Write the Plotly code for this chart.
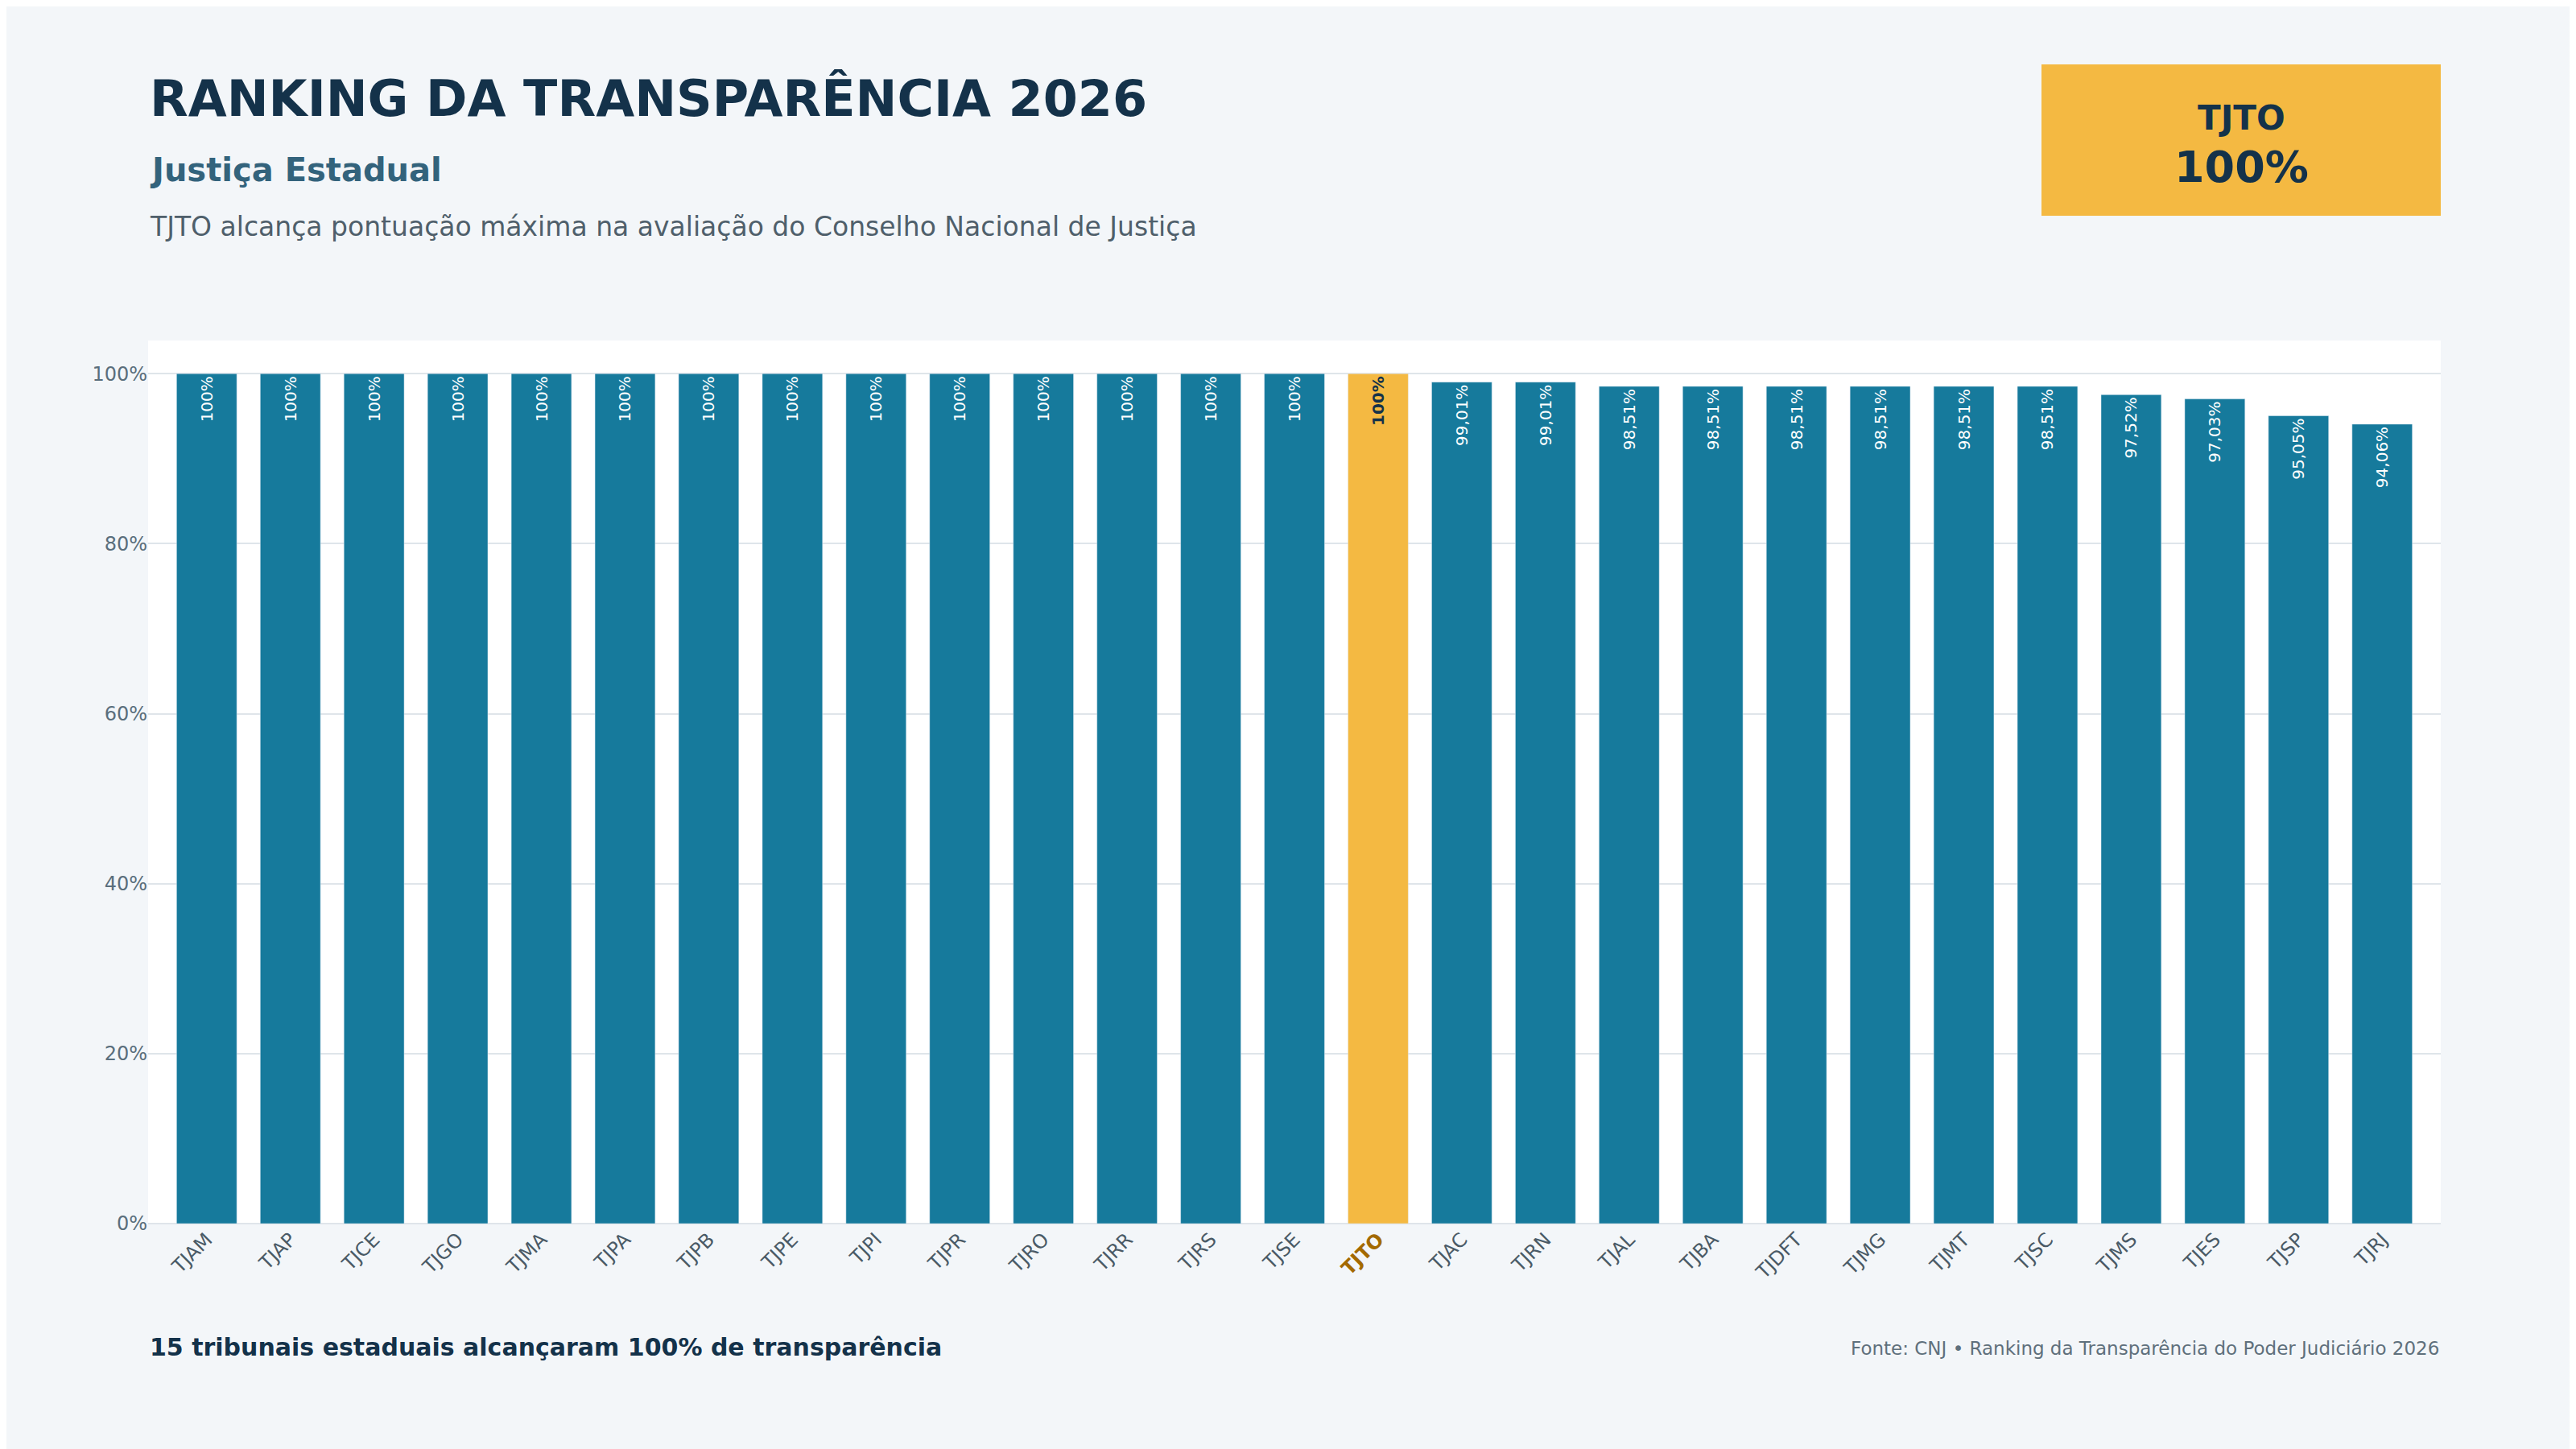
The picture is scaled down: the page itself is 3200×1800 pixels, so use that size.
import plotly.graph_objects as go

tribunais = ["TJAM", "TJAP", "TJCE", "TJGO", "TJMA", "TJPA", "TJPB", "TJPE", "TJPI", "TJPR",
             "TJRO", "TJRR", "TJRS", "TJSE", "TJTO", "TJAC", "TJRN", "TJAL", "TJBA", "TJDFT",
             "TJMG", "TJMT", "TJSC", "TJMS", "TJES", "TJSP", "TJRJ"]
valores = [100, 100, 100, 100, 100, 100, 100, 100, 100, 100, 100, 100, 100, 100, 100,
           99.01, 99.01, 98.51, 98.51, 98.51, 98.51, 98.51, 98.51, 97.52, 97.03, 95.05, 94.06]
y_ticks = [0, 20, 40, 60, 80, 100]

DESTAQUE = "TJTO"
AZUL = "#167a9c"
AMARELO = "#f4b942"
ESCURO = "#14324a"

cores = [AMARELO if t == DESTAQUE else AZUL for t in tribunais]
rotulos = [f"<b>{v:g}%</b>" if t == DESTAQUE else f"{v:g}%".replace(".", ",")
           for t, v in zip(tribunais, valores)]
rotulos = [r if "," in r or "<b>" in r else r for r in rotulos]
# keep two decimals for non-100 values
rotulos = [r if r.startswith("<b>") or v == 100 else f"{v:.2f}%".replace(".", ",")
           for r, v in zip(rotulos, valores)]
cor_txt = [ESCURO if t == DESTAQUE else "white" for t in tribunais]

fig = go.Figure(
    go.Bar(
        x=tribunais,
        y=valores,
        marker={"color": cores},
        width=0.72,
        text=rotulos,
        textposition="inside",
        insidetextanchor="end",
        textangle=-90,
        textfont={"size": 20, "color": cor_txt, "family": "DejaVu Sans"},
        hovertemplate="%{x}: %{y}%<extra></extra>",
    )
)

tick_text = [f"<b><span style='color:#a36a00'>{t}</span></b>" if t == DESTAQUE else t for t in tribunais]

fig.update_layout(
    width=3200,
    height=1800,
    font={"family": "DejaVu Sans", "color": "#5a6e7c"},
    paper_bgcolor="#f3f6f9",
    plot_bgcolor="white",
    margin={"l": 176, "r": 176, "t": 415, "b": 288},
    showlegend=False,
    xaxis={
        "tickmode": "array",
        "tickvals": tribunais,
        "ticktext": tick_text,
        "tickangle": -45,
        "tickfont": {"size": 24, "color": "#4a5a66"},
        "range": [-0.7, len(tribunais) - 0.3],
    },
    yaxis={
        "range": [0, 103.9],
        "tickvals": y_ticks,
        "ticktext": [f"{v}%" for v in y_ticks],
        "tickfont": {"size": 24, "color": "#5a6e7c"},
        "gridcolor": "#dfe5ea",
        "gridwidth": 2,
        "zeroline": True,
        "zerolinecolor": "#dfe5ea",
        "zerolinewidth": 2,
    },
    shapes=[{
        "type": "rect", "xref": "paper", "yref": "paper",
        "x0": 2528 / 2848 - 176 / 2848, "x1": 1.0,
        "y0": 1 + (1800 - 415 - 260) / 1097 - (1800 - 415 - 415) / 1097 + 0.0,
        "y1": 1 + (415 - 72) / 1097,
        "fillcolor": AMARELO, "line": {"width": 0}, "layer": "above",
    }],
    annotations=[
        {"text": "<b>RANKING DA TRANSPARÊNCIA 2026</b>", "xref": "paper", "yref": "paper",
         "x": 0, "y": 1 + (415 - 115) / 1097, "xanchor": "left", "yanchor": "middle",
         "showarrow": False, "font": {"size": 62, "color": ESCURO}},
        {"text": "<b>Justiça Estadual</b>", "xref": "paper", "yref": "paper",
         "x": 0, "y": 1 + (415 - 203) / 1097, "xanchor": "left", "yanchor": "middle",
         "showarrow": False, "font": {"size": 40, "color": "#33637c"}},
        {"text": "TJTO alcança pontuação máxima na avaliação do Conselho Nacional de Justiça",
         "xref": "paper", "yref": "paper",
         "x": 0, "y": 1 + (415 - 273) / 1097, "xanchor": "left", "yanchor": "middle",
         "showarrow": False, "font": {"size": 33, "color": "#4f5f6b"}},
        {"text": "<b>TJTO</b>", "xref": "paper", "yref": "paper",
         "x": (2776 - 176) / 2848, "y": 1 + (415 - 138) / 1097, "xanchor": "center", "yanchor": "middle",
         "showarrow": False, "font": {"size": 42, "color": ESCURO}},
        {"text": "<b>100%</b>", "xref": "paper", "yref": "paper",
         "x": (2776 - 176) / 2848, "y": 1 + (415 - 200) / 1097, "xanchor": "center", "yanchor": "middle",
         "showarrow": False, "font": {"size": 54, "color": ESCURO}},
        {"text": "<b>15 tribunais estaduais alcançaram 100% de transparência</b>",
         "xref": "paper", "yref": "paper",
         "x": 0, "y": -(1665 - 1512) / 1097, "xanchor": "left", "yanchor": "middle",
         "showarrow": False, "font": {"size": 30, "color": ESCURO}},
        {"text": "Fonte: CNJ • Ranking da Transparência do Poder Judiciário 2026",
         "xref": "paper", "yref": "paper",
         "x": 1, "y": -(1667 - 1512) / 1097, "xanchor": "right", "yanchor": "middle",
         "showarrow": False, "font": {"size": 23, "color": "#5f707c"}},
    ],
)

# fix badge rectangle y0 explicitly in paper coords
fig.layout.shapes[0].y0 = 1 + (415 - 260) / 1097

fig.write_html("out.html")
